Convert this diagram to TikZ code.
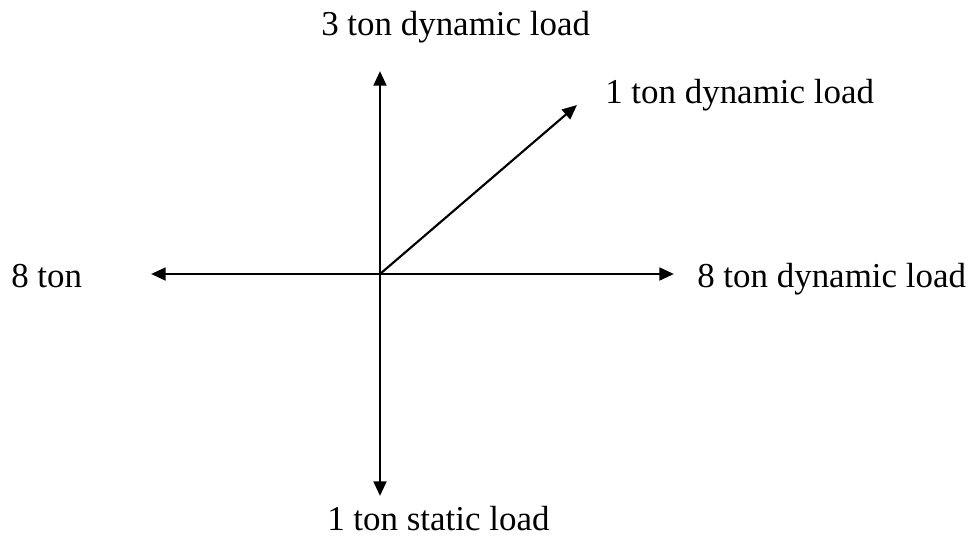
\documentclass[tikz,border=0pt]{standalone}
\usepackage{fontspec}
\setmainfont{Liberation Serif}
\usetikzlibrary{arrows.meta,positioning}

\begin{document}
\begin{tikzpicture}[x=0.75pt,y=-0.75pt,
    font=\fontsize{26.2}{31}\selectfont,
    force/.style={line width=2.1pt,-{Triangle[length=11pt,width=9.5pt]}},
    lbl/.style={inner sep=0pt,anchor=base west}]
  \useasboundingbox (0,0) rectangle (976,537);
  % origin and arrow tips
  \coordinate (o) at (380,274);
  \coordinate (up) at (380,71);
  \coordinate (dn) at (380,496);
  \coordinate (lt) at (151,274);
  \coordinate (rt) at (674,274);
  \coordinate (dg) at (577,105);
  \draw[force] (o) -- (up);
  \draw[force] (o) -- (dn);
  \draw[force] (o) -- (lt);
  \draw[force] (o) -- (rt);
  \draw[force,line width=1.6pt] (o) -- (dg);
  % labels
  \node[lbl] (tupl) at (321,35) {3 ton dynamic load};
  \node[lbl] (tdg) at (605,103) {1 ton dynamic load};
  \node[lbl] (tlt) at (11,287) {8 ton};
  \node[lbl] (trt) at (697,287) {8 ton dynamic load};
  \node[lbl] (tdn) at (327,530) {1 ton static load};
\end{tikzpicture}
\end{document}
